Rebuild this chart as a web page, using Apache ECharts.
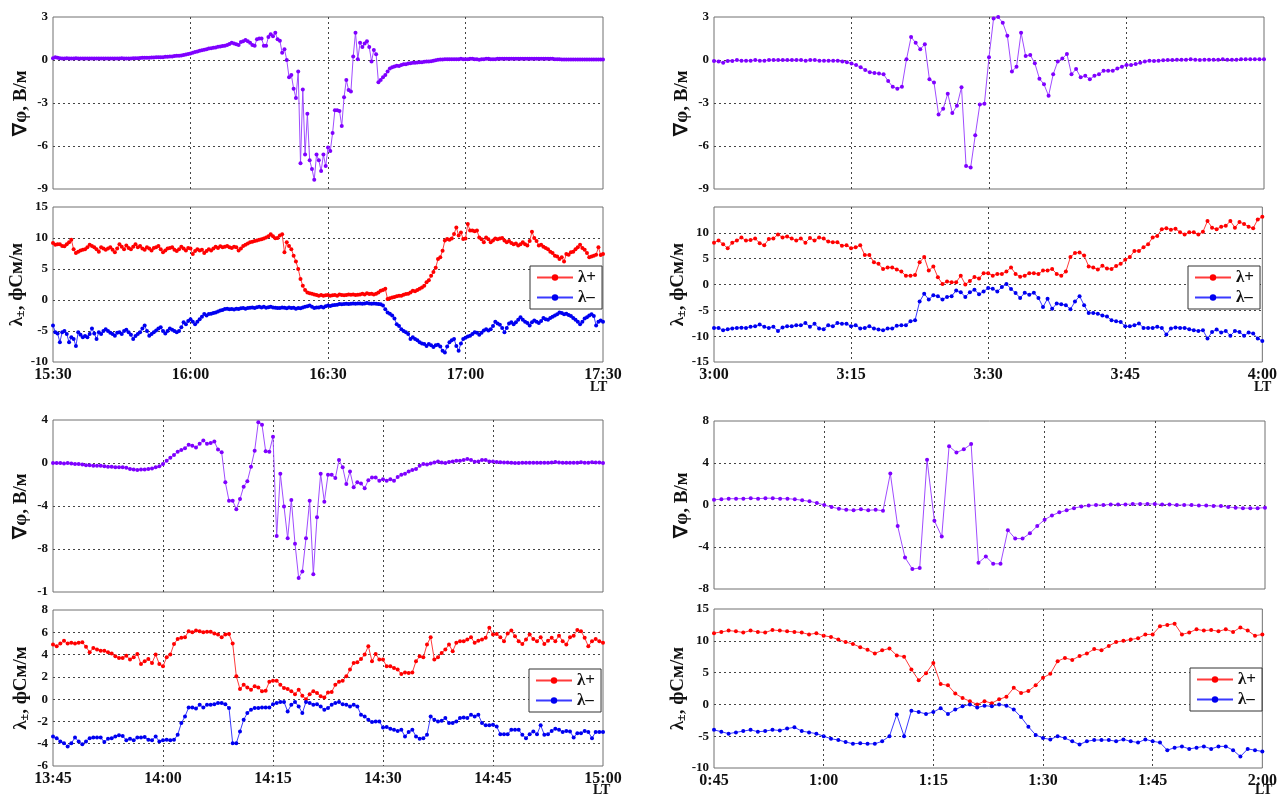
<!DOCTYPE html>
<html>
<head>
<meta charset="utf-8">
<script src="https://cdn.jsdelivr.net/npm/echarts/dist/echarts.min.js"></script>
<style>
html,body{margin:0;padding:0;background:#fff}
#chart{width:1280px;height:796px}
</style>
</head>
<body>
<div id="chart"></div>
<script>
// ---- 15:30 - 17:30 LT, samples every 0.5 min ----
const tlStart = 930, tlStep = 0.5;
const tlPhi = [
0.12,0.2,0.15,0.12,0.1,0.1,0.12,0.1,0.1,0.1,
0.12,0.1,0.1,0.1,0.1,0.1,0.1,0.1,0.1,0.1,
0.1,0.1,0.1,0.1,0.1,0.1,0.1,0.1,0.1,0.1,
0.12,0.1,0.1,0.1,0.1,0.12,0.12,0.12,0.14,0.15,
0.15,
0.15,0.16,0.17,0.18,0.2,0.2,0.2,0.2,0.22,0.22,0.25,0.25,0.28,0.3,0.3,0.32,0.35,0.38,0.42,
0.45,0.5,0.55,0.6,0.65,0.68,0.72,0.75,0.8,0.82,0.86,0.88,0.92,0.95,0.98,1.0,1.05,1.12,1.2,1.15,1.1,1.05,1.25,1.3,1.4,1.3,1.2,1.05,1.0,1.45,1.5,1.5,1.0,1.0,1.6,1.8,
1.65,1.9,1.45,1.35,0.5,0.75,0.0,-1.2,-1.05,-2.0,
-2.65,-0.8,-7.2,-2.05,-6.6,-3.75,-7.0,-7.6,-8.35,-6.6,
-7.0,-7.75,-6.6,-7.4,-6.1,-6.35,-5.1,-3.5,-3.5,-3.55,
-4.6,-2.6,-1.4,-2.1,-2.2,0.25,1.9,0.05,1.2,0.9,
1.15,1.3,0.9,-0.1,0.7,0.4,-1.55,-1.4,-1.2,-1.05,
-0.8,-0.6,-0.5,-0.45,-0.4,
-0.42,-0.35,-0.3,-0.3,-0.25,-0.22,-0.2,-0.2,-0.18,-0.15,-0.15,-0.12,-0.1,-0.1,-0.08,-0.05,-0.02,0.02,
0.03,0.03,0.05,0.05,0.05,0.05,0.05,0.05,0.05,0.08,
0.05,0.05,0.05,0.08,0.08,0.05,0.05,0.02,0.05,0.05,
0.08,0.08,0.05,0.05,0.05,0.08,0.08,0.08,0.08,0.08,
0.08,0.08,0.08,0.08,0.08,0.08,0.08,0.08,0.08,0.08,
0.08,0.08,0.08,0.08,0.08,0.08,0.08,0.08,0.08,0.08,
0.05,0.05,0.05,0.03,0.03,0.03,0.03,0.03,0.03,0.03,
0.03,0.03,0.03,0.03,0.03,0.03,0.03,0.03,0.03,0.03,
0.03,0.03
];
const tlPlus = [
9.2,8.9,9.0,9.0,8.7,8.65,9.0,9.3,9.7,8.2,7.6,7.8,8.0,8.1,8.2,8.5,8.9,8.7,8.5,8.2,7.8,
8.5,8.3,8.1,8.3,8.5,8.1,7.7,8.3,9.0,8.6,8.2,8.8,8.4,8.2,8.6,9.0,8.5,8.7,8.3,8.1,
8.5,8.3,8.0,8.4,8.5,8.7,8.2,7.7,8.0,8.3,8.4,8.5,8.1,7.9,8.2,8.6,8.3,8.0,8.4,8.3,
7.4,7.9,8.2,8.0,8.1,7.6,7.9,8.2,8.0,8.3,8.6,8.4,8.65,8.5,
8.6,8.7,8.5,8.4,8.6,8.5,8.0,8.3,8.7,8.9,9.1,
9.3,9.4,9.5,9.6,9.7,9.8,9.9,10.1,10.3,10.6,10.3,9.95,
10.0,10.4,10.6,7.7,9.3,8.7,8.2,7.15,6.2,5.0,3.4,2.3,1.6,1.2,1.1,1.0,0.9,0.8,0.7,
0.8,0.7,0.75,0.8,0.7,0.75,0.8,0.7,0.9,0.8,0.75,0.8,0.9,0.85,0.9,0.8,0.85,0.9,1.0,0.9,1.1,0.95,1.0,0.9,
1.0,1.2,1.5,1.6,1.8,0.15,0.3,0.4,0.5,0.6,
0.7,0.7,0.85,0.97,1.0,1.2,1.5,1.4,1.6,1.8,
2.0,2.3,2.85,3.2,3.9,4.5,5.2,6.6,6.9,7.95,
9.6,9.85,9.7,9.9,10.65,11.7,10.4,10.9,9.85,9.9,
12.25,11.2,11.2,11.1,11.2,10.1,9.8,9.3,10.1,9.8,
9.3,9.6,9.9,9.8,9.9,10.0,9.6,9.3,9.5,9.2,
9.0,9.1,8.8,9.0,9.3,9.0,8.8,9.5,11.0,10.0,
9.5,8.8,8.9,8.6,8.4,8.2,7.8,7.6,7.15,7.0,
6.6,6.9,6.2,7.4,7.3,7.7,7.8,8.2,8.5,8.9,
8.4,8.1,7.6,6.9,7.0,7.15,7.3,8.5,7.25,7.4
];
const tlMinus = [
-4.1,-5.2,-5.4,-6.8,-5.2,-5.0,-5.5,-6.8,-6.0,-6.3,
-7.4,-5.2,-5.6,-6.0,-5.8,-6.0,-5.5,-4.6,-5.4,-6.3,
-5.2,-5.5,-5.0,-4.7,-5.0,-5.3,-5.5,-5.75,-5.3,-5.2,
-5.5,-5.0,-4.8,-5.2,-5.6,-6.3,-5.8,-5.5,-5.2,-4.6,
-4.1,-5.0,-5.75,-5.5,-5.2,-4.9,-4.6,-4.4,-5.0,-5.4,
-5.0,-4.6,-4.8,-5.0,-5.2,-5.0,-4.4,-3.6,-3.9,-3.4,
-3.1,
-3.5,-3.9,-3.5,-3.1,-2.7,-2.25,-2.5,-2.25,-2.2,-2.1,
-2.0,-1.85,-1.7,-1.6,-1.45,-1.4,-1.5,-1.45,-1.55,-1.4,
-1.45,-1.35,-1.3,-1.4,-1.3,-1.25,-1.2,-1.3,-1.15,-1.1,
-1.2,-1.1,-1.25,-1.15,-1.1,-1.2,-1.25,-1.3,-1.3,-1.2,
-1.25,-1.35,-1.2,-1.3,-1.25,-1.4,-1.3,-1.35,-1.2,-1.1,
-1.0,-0.9,-1.1,-1.3,-1.2,-1.2,-1.1,-1.2,-1.0,-0.9,
-0.95,-0.85,-0.8,-0.75,-0.65,-0.7,-0.65,-0.6,-0.65,-0.6,
-0.55,-0.6,-0.55,-0.55,-0.6,-0.55,-0.5,-0.55,-0.6,-0.55,
-0.6,-0.65,-0.7,-0.9,-1.5,-2.0,-2.2,-2.5,-3.0,-3.9,
-4.2,-4.7,-5.0,-5.2,-5.5,-6.3,-6.0,-6.3,-6.5,-6.8,
-7.0,-7.1,-7.4,-7.1,-7.3,-7.6,-7.3,-7.2,-7.5,-8.2,
-8.45,-7.5,-6.8,-6.5,-6.3,-7.4,-8.2,-7.0,-6.3,-6.1,
-5.9,-5.75,-5.5,-5.2,-5.3,-5.6,-5.3,-4.9,-4.7,-4.9,
-4.7,-4.2,-3.5,-3.8,-4.0,-4.5,-5.2,-4.5,-3.8,-3.6,
-3.9,-3.6,-3.2,-2.8,-3.2,-3.5,-3.7,-4.1,-3.6,-3.3,
-3.5,-3.7,-3.4,-2.9,-3.1,-3.2,-2.9,-2.7,-2.5,-2.3,
-2.0,-2.1,-2.3,-2.2,-2.4,-2.6,-2.9,-3.2,-3.5,-3.9,
-3.5,-3.0,-2.8,-2.5,-2.3,-2.6,-4.1,-3.5,-3.3,-3.5
];

// ---- 3:00 - 4:00 LT, samples every 0.5 min ----
const trStart = 180, trStep = 0.5;
const trPhi = [
-0.07,-0.1,-0.2,-0.07,-0.07,0,-0.05,-0.05,-0.05,0,
-0.05,-0.05,0,0,0,0,0,0,0,0,
-0.05,0,0,-0.05,-0.05,-0.05,-0.05,-0.05,-0.1,-0.15,
-0.25,-0.35,
-0.5,-0.7,-0.85,-0.9,-0.95,-1.0,-1.47,-1.87,-2.0,-1.87,
0.05,1.6,1.2,0.75,1.1,-1.35,-1.57,-3.8,-3.4,-2.35,
-3.7,-3.2,-1.9,-7.4,-7.5,-5.25,-3.1,-3.05,0.2,
2.9,3.0,2.6,1.7,-0.8,-0.47,1.9,0.28,0.35,-0.23,
-1.3,-1.7,-2.5,-1.0,-0.1,0.1,0.42,-1.0,-0.63,-1.2,
-1.1,-1.35,-1.1,-1.0,-0.75,-0.75,-0.75,-0.6,-0.47,-0.35,
-0.35,-0.28,-0.2,-0.1,-0.05,-0.07,-0.05,-0.02,
0,0,0.02,0.02,0.02,0.05,0.02,0,0.02,0.02,
0.02,0.02,0.05,0.02,0.02,0.02,0.05,0.05,0.05,0.05,
0.05,0.05
];
const trPlus = [
8.1,8.5,7.8,7.0,8.1,8.5,9.1,8.5,8.6,8.9,
8.0,7.6,8.8,8.9,9.7,9.1,9.3,8.9,8.5,8.9,
8.1,9.0,8.5,9.1,8.9,8.3,8.2,8.2,7.5,7.6,
7.0,7.2,7.6,5.7,5.7,4.3,4.0,3.0,3.3,3.3,
2.9,2.5,1.7,1.7,1.85,4.3,5.3,2.7,3.5,1.4,
0.1,0.6,0.45,0.45,1.7,0.0,0.7,1.45,1.15,2.2,
2.2,1.7,2.05,2.05,2.5,3.3,2.05,1.5,1.7,2.2,
2.2,2.05,2.7,2.7,3.0,2.05,1.7,2.5,5.3,6.1,
6.2,5.6,3.5,3.3,2.9,3.65,3.1,3.0,3.6,4.0,
4.8,5.3,6.5,6.5,7.2,7.8,9.1,9.4,10.7,10.9,
10.6,10.8,10.1,9.7,10.1,10.1,9.7,10.2,12.3,11.0,
10.7,11.2,11.35,12.3,11.0,12.1,11.7,11.2,10.9,12.6,
13.1
];
const trMinus = [
-8.4,-8.4,-8.85,-8.65,-8.5,-8.4,-8.35,-8.4,-8.2,-8.1,
-7.75,-8.2,-8.4,-8.2,-9.0,-8.3,-8.1,-8.1,-7.9,-7.9,
-7.45,-8.2,-7.6,-8.5,-8.65,-7.9,-8.1,-7.45,-7.6,-7.6,
-8.1,-7.9,-8.5,-8.4,-8.1,-8.5,-8.7,-8.85,-8.5,-8.5,
-8.0,-7.9,-7.9,-7.1,-6.9,-3.3,-1.8,-2.9,-2.1,-2.25,
-2.9,-2.4,-2.25,-1.15,-1.5,-2.4,-1.5,-1.0,-1.9,-1.35,
-0.7,-0.8,-1.35,-0.5,0.1,-0.85,-1.65,-2.6,-1.6,-2.0,
-1.6,-2.6,-4.35,-2.75,-4.7,-3.7,-3.8,-4.0,-4.8,-3.3,
-2.25,-4.0,-5.5,-5.5,-5.65,-6.0,-6.2,-6.9,-7.1,-7.25,
-8.1,-8.1,-7.9,-7.55,-8.4,-8.4,-8.4,-8.2,-8.4,-9.7,
-8.5,-8.3,-8.4,-8.4,-8.65,-8.85,-9.0,-8.85,-10.45,-9.2,
-8.7,-9.3,-9.0,-9.9,-9.0,-9.2,-9.9,-9.3,-9.5,-10.45,
-10.95
];

// ---- 13:45 - 15:00 LT, samples every 0.5 min ----
const blStart = 825, blStep = 0.5;
const blPhi = [
0,0,0,-0.05,0,-0.05,-0.1,-0.1,-0.15,-0.2,
-0.2,-0.25,-0.25,-0.25,-0.3,-0.35,-0.35,-0.4,-0.4,-0.4,
-0.45,-0.55,-0.6,-0.65,-0.6,-0.6,-0.55,-0.5,-0.4,-0.3,
-0.1,
0.2,0.5,0.75,1.05,1.2,1.37,1.7,1.6,1.45,1.8,
2.1,1.8,1.85,2.0,1.25,1.0,
-1.8,-3.5,-3.5,-4.3,-3.35,-2.2,-1.7,-0.35,1.15,3.8,
3.55,1.1,1.05,2.45,-6.8,-1.0,-4.05,-7.0,-3.45,-7.5,
-10.7,-10.1,-7.0,-3.5,-10.35,-5.05,-1.0,-3.6,-1.1,-1.1,
-1.4,
0.28,-0.4,-1.95,-0.8,-2.25,-1.8,-1.9,-2.35,-1.6,-1.35,
-1.35,-1.65,-1.5,-1.65,-1.5,-1.65,-1.3,-1.1,-1.0,-0.8,
-0.65,-0.55,-0.25,-0.1,-0.15,-0.05,0.05,0.15,0.05,0.0,
0.1,0.15,0.2,0.2,0.28,0.37,0.28,0.12,0.15,0.28,
0.28,0.15,0.15,
0.1,0.08,0.05,0.05,0.03,0,0,0.03,0.03,0.03,
0.03,0.03,0.03,0.03,0.03,0.05,0.1,0.05,0.03,0.03,
0.03,0.03,0.03,0.08,0.03,0.03,0.08,0.05,0.05,0.0
];
const blPlus = [
4.9,4.75,5.0,5.25,5.0,5.05,5.0,5.05,5.1,4.7,
4.2,4.6,4.45,4.35,4.35,4.2,4.1,3.85,3.7,3.7,
3.9,3.55,3.75,4.05,3.15,3.4,3.6,3.25,4.0,3.15,
2.95,3.75,4.0,4.95,5.4,5.5,5.55,6.1,6.0,6.15,
6.1,6.0,6.05,6.05,5.9,5.8,5.55,5.8,5.85,5.0,
2.05,0.9,1.3,1.05,0.85,1.15,1.05,0.7,0.75,1.55,
1.65,1.65,1.3,1.0,0.9,0.7,0.45,0.85,0.3,0.0,
0.45,0.7,0.55,0.25,0.15,0.6,0.65,1.3,1.55,1.65,
2.05,2.65,3.25,3.3,3.6,4.0,4.75,3.4,4.05,3.55,
3.55,2.95,2.95,2.8,2.65,2.25,2.4,2.35,2.4,3.4,
3.85,3.75,4.9,5.55,3.55,3.75,4.15,4.45,4.9,4.3,
5.05,5.2,5.2,5.35,5.55,5.05,5.25,5.35,5.5,6.4,
5.8,5.85,5.55,5.2,5.9,6.15,5.65,5.2,4.95,5.35,
5.8,5.4,5.2,5.55,4.95,5.25,5.5,5.2,5.7,5.2,
4.9,5.55,5.7,6.2,6.1,5.5,4.75,5.2,5.4,5.2,
5.05
];
const blMinus = [
-3.35,-3.5,-3.8,-3.95,-4.25,-3.95,-3.45,-3.8,-4.05,-3.8,
-3.5,-3.45,-3.45,-3.45,-3.85,-3.55,-3.5,-3.35,-3.25,-3.3,
-3.7,-3.55,-3.7,-3.45,-3.45,-3.4,-3.65,-3.7,-3.35,-3.8,
-3.7,-3.65,-3.7,-3.65,-3.2,-2.15,-1.55,-0.75,-0.75,-0.85,
-0.5,-0.75,-0.5,-0.5,-0.45,-0.35,-0.35,-0.45,-0.8,-3.95,
-3.95,-2.9,-1.85,-1.25,-0.95,-0.8,-0.8,-0.75,-0.75,-0.75,
-0.45,-0.35,-0.25,-0.25,-1.1,-0.5,-0.25,-0.65,-1.25,-0.25,
-0.35,-0.5,-0.45,-0.65,-0.95,-0.8,-0.5,-0.35,-0.25,-0.45,
-0.5,-0.65,-0.5,-0.65,-1.4,-1.55,-1.85,-2.05,-2.0,-2.0,
-2.55,-2.5,-2.65,-2.75,-2.85,-2.75,-3.35,-2.95,-2.75,-3.35,
-3.55,-3.5,-3.2,-1.55,-1.85,-2.0,-1.95,-1.7,-2.15,-2.15,
-2.0,-1.7,-1.65,-1.7,-1.4,-1.55,-1.4,-2.15,-2.35,-2.35,
-2.3,-2.45,-3.15,-3.15,-3.15,-2.75,-2.75,-2.75,-3.2,-3.5,
-3.15,-2.9,-3.15,-2.35,-3.2,-3.15,-2.85,-2.65,-2.75,-2.95,
-2.85,-2.9,-3.45,-3.05,-3.05,-2.85,-2.95,-3.5,-2.95,-2.95,
-2.95
];

// ---- 0:45 - 2:00 LT, samples every minute ----
const brStart = 45, brStep = 1;
const brPhi = [
0.5,0.55,0.6,0.6,0.6,0.65,0.6,0.65,0.65,0.6,
0.6,0.55,0.45,0.35,0.2,0.0,-0.2,-0.35,-0.45,-0.5,
-0.4,-0.5,-0.45,-0.55,3.0,-2.0,-5.0,-6.1,-6.0,4.3,
-1.5,-3.0,5.6,5.0,5.3,5.8,-5.5,-4.9,-5.6,-5.6,
-2.4,-3.2,-3.2,-2.7,-2.0,-1.4,-1.0,-0.7,-0.5,-0.3,
-0.15,-0.05,0.0,0.0,0.05,0.05,0.05,0.1,0.1,0.1,
0.1,0.05,0.05,0.0,0.0,0.0,-0.05,-0.05,-0.1,-0.1,
-0.2,-0.25,-0.3,-0.3,-0.3,-0.25
];
const brPlus = [
11.2,11.4,11.6,11.5,11.3,11.6,11.4,11.3,11.7,11.6,11.5,11.4,11.3,11.0,11.2,
10.8,10.6,10.2,9.8,9.5,9.0,8.6,8.0,8.5,8.8,7.7,7.5,5.5,3.8,4.9,6.5,3.2,3.0,1.7,1.0,0.5,
0.0,0.5,0.2,0.8,1.2,2.6,1.8,2.1,3.0,4.2,
4.8,6.8,7.3,7.0,7.6,8.0,8.7,8.5,9.2,9.8,
10.0,10.2,10.4,11.0,11.0,12.3,12.5,12.7,11.0,11.3,
11.8,11.6,11.7,11.5,11.8,11.4,12.1,11.6,10.8,11.0
];
const brMinus = [
-4.0,-4.3,-4.6,-4.4,-4.2,-4.0,-4.3,-4.2,-4.0,-4.1,
-3.8,-3.6,-4.2,-4.4,-4.6,-5.0,-5.4,-5.6,-5.9,-6.2,
-6.1,-6.2,-6.2,-5.8,-5.0,-1.6,-5.0,-1.0,-1.2,-1.5,
-1.2,-0.6,-1.5,-0.8,-0.3,0.0,-0.5,-0.2,-0.3,0.0,
-0.2,-0.8,-2.0,-3.5,-4.8,-5.3,-5.5,-5.0,-5.3,-5.8,
-6.3,-5.8,-5.6,-5.6,-5.6,-5.8,-5.5,-5.8,-6.0,-5.5,
-5.8,-6.0,-7.2,-6.8,-6.6,-7.0,-6.8,-6.6,-7.0,-6.6,
-6.6,-7.2,-8.2,-7.0,-7.2,-7.4
];

// ---- tick labels ----
const tlTimeTicks = ['15:30','16:00','16:30','17:00','17:30'];
const trTimeTicks = ['3:00','3:15','3:30','3:45','4:00'];
const blTimeTicks = ['13:45','14:00','14:15','14:30','14:45','15:00'];
const brTimeTicks = ['0:45','1:00','1:15','1:30','1:45','2:00'];
const tlPhiTicks = ['-9','-6','-3','0','3'];
const tlLamTicks = ['-10','-5','0','5','10','15'];
const trPhiTicks = ['-9','-6','-3','0','3'];
const trLamTicks = ['-15','-10','-5','0','5','10',''];
const blPhiTicks = ['-1','-8','-4','0','4'];
const blLamTicks = ['-6','-4','-2','0','2','4','6','8'];
const brPhiTicks = ['-8','-4','0','4','8'];
const brLamTicks = ['-10','-5','0','5','10','15'];

const seriesNames = ['λ+', 'λ–'];

const SERIF = '"Liberation Serif","Times New Roman",serif';
const C_PHI_LINE = '#a04cff', C_PHI_DOT = '#7f00ff';
const C_PLUS_LINE = '#ff3b3b', C_PLUS_DOT = '#ff0000';
const C_MINUS_LINE = '#3a3aff', C_MINUS_DOT = '#0000f0';

// one block per measurement session: gradient on top, conductivities below
const panels = [
  {start: tlStart, step: tlStep, phi: tlPhi, plus: tlPlus, minus: tlMinus,
   xMin: 930, xInt: 30, xTicks: tlTimeTicks,
   phiMin: -9, phiInt: 3, phiTicks: tlPhiTicks, lamMin: -10, lamInt: 5, lamTicks: tlLamTicks,
   left: 53, width: 550, upTop: 17, upH: 172, loTop: 207, loH: 155, legend: [530, 266], lt: [597, 388]},
  {start: trStart, step: trStep, phi: trPhi, plus: trPlus, minus: trMinus,
   xMin: 180, xInt: 15, xTicks: trTimeTicks,
   phiMin: -9, phiInt: 3, phiTicks: trPhiTicks, lamMin: -15, lamInt: 5, lamTicks: trLamTicks,
   left: 714, width: 550, upTop: 17, upH: 172, loTop: 207, loH: 155, legend: [1188, 266], lt: [1261, 388]},
  {start: blStart, step: blStep, phi: blPhi, plus: blPlus, minus: blMinus,
   xMin: 825, xInt: 15, xTicks: blTimeTicks,
   phiMin: -12, phiInt: 4, phiTicks: blPhiTicks, lamMin: -6, lamInt: 2, lamTicks: blLamTicks,
   left: 53, width: 550, upTop: 420, upH: 172, loTop: 610, loH: 156, legend: [529, 669], lt: [600, 791]},
  {start: brStart, step: brStep, phi: brPhi, plus: brPlus, minus: brMinus,
   xMin: 45, xInt: 15, xTicks: brTimeTicks,
   phiMin: -8, phiInt: 4, phiTicks: brPhiTicks, lamMin: -10, lamInt: 5, lamTicks: brLamTicks,
   left: 714, width: 551, upTop: 421, upH: 168, loTop: 609, loH: 159, legend: [1190, 668], lt: [1262, 791]}
];

function toPairs(start, step, values) {
  return values.map((v, i) => [start + i * step, v]);
}

const grids = [], xAxes = [], yAxes = [], series = [], legends = [], graphics = [];

const dashed = {show: true, lineStyle: {color: '#444', width: 1, type: [2, 3]}, showMinLine: false, showMaxLine: false};

panels.forEach((p, k) => {
  const xMax = p.xMin + p.xInt * (p.xTicks.length - 1);
  const rows = [
    {top: p.upTop, h: p.upH, min: p.phiMin, int: p.phiInt, ticks: p.phiTicks, showX: false,
     name: '∇φ, В/м'},
    {top: p.loTop, h: p.loH, min: p.lamMin, int: p.lamInt, ticks: p.lamTicks, showX: true,
     name: '{a|λ}{s|±}{a|, фСм/м}'}
  ];
  rows.forEach((r, j) => {
    const gi = k * 2 + j;
    grids.push({left: p.left, top: r.top, width: p.width, height: r.h,
      show: true, borderColor: '#707070', borderWidth: 1, backgroundColor: '#fff'});
    xAxes.push({
      gridIndex: gi, type: 'value', min: p.xMin, max: xMax, interval: p.xInt,
      axisLine: {show: false}, axisTick: {show: false},
      splitLine: dashed,
      axisLabel: {show: r.showX, margin: 5, fontFamily: SERIF, fontWeight: 'bold', fontSize: 16, color: '#111',
        formatter: v => p.xTicks[Math.round((v - p.xMin) / p.xInt)]}
    });
    const yMax = r.min + r.int * (r.ticks.length - 1);
    yAxes.push({
      gridIndex: gi, type: 'value', min: r.min, max: yMax, interval: r.int,
      axisLine: {show: false}, axisTick: {show: false},
      splitLine: dashed,
      axisLabel: {margin: 5, fontFamily: SERIF, fontWeight: 'bold', fontSize: 13, color: '#111',
        formatter: v => r.ticks[Math.round((v - r.min) / r.int)]},
      name: r.name, nameLocation: 'middle', nameGap: 22,
      nameTextStyle: {fontFamily: SERIF, fontWeight: 'bold', fontSize: 19, color: '#111',
        rich: {a: {fontFamily: SERIF, fontWeight: 'bold', fontSize: 19, color: '#111'},
               s: {fontFamily: SERIF, fontWeight: 'bold', fontSize: 12, color: '#111', padding: [8, 0, 0, 0]}}}
    });
  });
  const common = {type: 'line', symbol: 'circle', symbolSize: 4, showAllSymbol: true,
    animation: false, emphasis: {disabled: true}, silent: true};
  series.push(Object.assign({}, common, {name: '∇φ', xAxisIndex: k * 2, yAxisIndex: k * 2,
    data: toPairs(p.start, p.step, p.phi),
    lineStyle: {color: C_PHI_LINE, width: 1}, itemStyle: {color: C_PHI_DOT}}));
  series.push(Object.assign({}, common, {name: seriesNames[0], xAxisIndex: k * 2 + 1, yAxisIndex: k * 2 + 1,
    data: toPairs(p.start, p.step, p.plus),
    lineStyle: {color: C_PLUS_LINE, width: 1}, itemStyle: {color: C_PLUS_DOT}}));
  series.push(Object.assign({}, common, {name: seriesNames[1], xAxisIndex: k * 2 + 1, yAxisIndex: k * 2 + 1,
    data: toPairs(p.start, p.step, p.minus),
    lineStyle: {color: C_MINUS_LINE, width: 1}, itemStyle: {color: C_MINUS_DOT}}));
  legends.push({
    left: p.legend[0], top: p.legend[1], orient: 'vertical', selectedMode: false,
    itemWidth: 36, itemHeight: 8, itemGap: 3, padding: [3, 6, 3, 6],
    borderColor: '#333', borderWidth: 1, backgroundColor: '#fff',
    textStyle: {fontFamily: SERIF, fontWeight: 'bold', fontSize: 17, color: '#111'},
    data: seriesNames
  });
  graphics.push({type: 'text', left: p.lt[0] - 7, top: p.lt[1] - 8,
    style: {text: 'LT', font: 'bold 14px ' + SERIF, fill: '#111'}});
});

const chart = echarts.init(document.getElementById('chart'), null, {renderer: 'canvas'});
chart.setOption({
  backgroundColor: '#fff',
  animation: false,
  grid: grids,
  xAxis: xAxes,
  yAxis: yAxes,
  legend: legends,
  series: series,
  graphic: graphics
});
</script>
</body>
</html>
